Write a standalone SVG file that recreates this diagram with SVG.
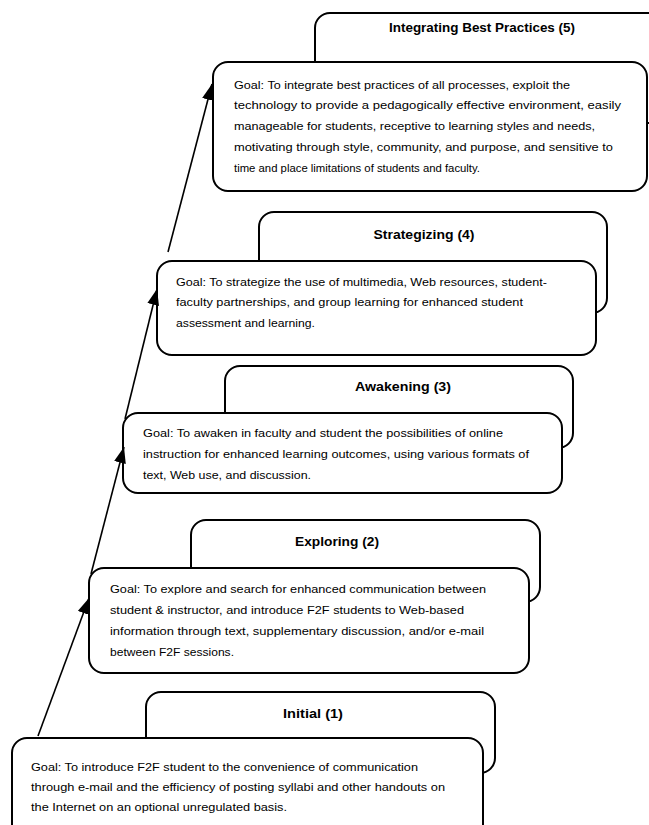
<svg xmlns="http://www.w3.org/2000/svg" width="649" height="825" viewBox="0 0 649 825">
  <style>
    .box { fill: #ffffff; stroke: #000000; stroke-width: 2; }
    .title { font-family: "Liberation Sans", Arial, sans-serif; font-size: 12.5px; font-weight: bold; fill: #000000; text-anchor: middle; }
    .goal { font-family: "Liberation Sans", Arial, sans-serif; font-size: 11.5px; fill: #000000; }
    .arrow { stroke: #000000; stroke-width: 1.6; fill: none; marker-end: url(#head); }
  </style>
  <defs>
    <marker id="head" markerUnits="userSpaceOnUse" markerWidth="18" markerHeight="14" refX="16" refY="6" orient="auto">
      <path d="M0,0 L16,6 L0,12 Z" fill="#000000"/>
    </marker>
  </defs>
  <rect width="649" height="825" fill="#ffffff"/>

  <!-- Stage 5 -->
  <g id="stage5">
    <rect class="box" x="315" y="13" width="365" height="110" rx="15"/>
    <text class="title" x="482" y="32" textLength="186" lengthAdjust="spacingAndGlyphs">Integrating Best Practices (5)</text>
    <rect class="box" x="213" y="62" width="434" height="129" rx="15"/>
    <text class="goal" x="234" y="89" textLength="336" lengthAdjust="spacingAndGlyphs">Goal: To integrate best practices of all processes, exploit the</text>
    <text class="goal" x="234" y="109" textLength="387" lengthAdjust="spacingAndGlyphs">technology to provide a pedagogically effective environment, easily</text>
    <text class="goal" x="234" y="130" textLength="361" lengthAdjust="spacingAndGlyphs">manageable for students, receptive to learning styles and needs,</text>
    <text class="goal" x="234" y="151" textLength="379" lengthAdjust="spacingAndGlyphs">motivating through style, community, and purpose, and sensitive to</text>
    <text class="goal" x="234" y="172" textLength="246" lengthAdjust="spacingAndGlyphs">time and place limitations of students and faculty.</text>
  </g>

  <!-- Stage 4 -->
  <g id="stage4">
    <rect class="box" x="259" y="212" width="348" height="101" rx="15"/>
    <text class="title" x="424" y="239" textLength="101" lengthAdjust="spacingAndGlyphs">Strategizing (4)</text>
    <rect class="box" x="157" y="261" width="439" height="94" rx="15"/>
    <text class="goal" x="176" y="286" textLength="371" lengthAdjust="spacingAndGlyphs">Goal: To strategize the use of multimedia, Web resources, student-</text>
    <text class="goal" x="176" y="306" textLength="347" lengthAdjust="spacingAndGlyphs">faculty partnerships, and group learning for enhanced student</text>
    <text class="goal" x="176" y="327" textLength="139" lengthAdjust="spacingAndGlyphs">assessment and learning.</text>
  </g>

  <!-- Stage 3 -->
  <g id="stage3">
    <rect class="box" x="225" y="366" width="348" height="82" rx="15"/>
    <text class="title" x="403" y="391" textLength="96" lengthAdjust="spacingAndGlyphs">Awakening (3)</text>
    <rect class="box" x="123" y="413" width="439" height="80" rx="15"/>
    <text class="goal" x="143" y="437" textLength="360" lengthAdjust="spacingAndGlyphs">Goal: To awaken in faculty and student the possibilities of online</text>
    <text class="goal" x="143" y="458" textLength="386" lengthAdjust="spacingAndGlyphs">instruction for enhanced learning outcomes, using various formats of</text>
    <text class="goal" x="143" y="479" textLength="168" lengthAdjust="spacingAndGlyphs">text, Web use, and discussion.</text>
  </g>

  <!-- Stage 2 -->
  <g id="stage2">
    <rect class="box" x="191" y="520" width="349" height="82" rx="15"/>
    <text class="title" x="337" y="546" textLength="84" lengthAdjust="spacingAndGlyphs">Exploring (2)</text>
    <rect class="box" x="89" y="568" width="440" height="105" rx="15"/>
    <text class="goal" x="110" y="593" textLength="376" lengthAdjust="spacingAndGlyphs">Goal: To explore and search for enhanced communication between</text>
    <text class="goal" x="110" y="614" textLength="354" lengthAdjust="spacingAndGlyphs">student &amp; instructor, and introduce F2F students to Web-based</text>
    <text class="goal" x="110" y="635" textLength="374" lengthAdjust="spacingAndGlyphs">information through text, supplementary discussion, and/or e-mail</text>
    <text class="goal" x="110" y="656" textLength="124" lengthAdjust="spacingAndGlyphs">between F2F sessions.</text>
  </g>

  <!-- Stage 1 -->
  <g id="stage1">
    <rect class="box" x="146" y="692" width="349" height="81" rx="15"/>
    <text class="title" x="313" y="718" textLength="60" lengthAdjust="spacingAndGlyphs">Initial (1)</text>
    <rect class="box" x="12" y="738" width="471" height="104" rx="15"/>
    <text class="goal" x="31" y="771" textLength="387" lengthAdjust="spacingAndGlyphs">Goal: To introduce F2F student to the convenience of communication</text>
    <text class="goal" x="31" y="791" textLength="414" lengthAdjust="spacingAndGlyphs">through e-mail and the efficiency of posting syllabi and other handouts on</text>
    <text class="goal" x="31" y="811" textLength="256" lengthAdjust="spacingAndGlyphs">the Internet on an optional unregulated basis.</text>
  </g>

  <!-- Progression arrows -->
  <g id="connectors">
    <line class="arrow" x1="38" y1="736" x2="89" y2="598"/>
    <line class="arrow" x1="91" y1="574" x2="124" y2="447"/>
    <line class="arrow" x1="125" y1="419" x2="157" y2="289"/>
    <line class="arrow" x1="168" y1="252" x2="212" y2="84"/>
  </g>
</svg>
